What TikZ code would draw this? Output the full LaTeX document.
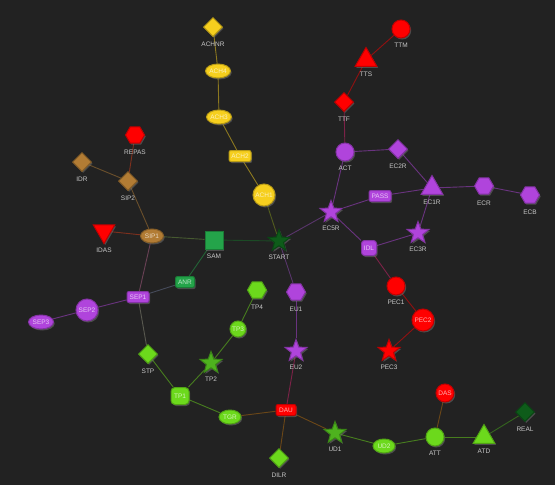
\documentclass[tikz,border=0pt]{standalone}
\usepackage{fontspec}
\setsansfont{Liberation Sans}
\usetikzlibrary{shapes.geometric,shadows,backgrounds}
\definecolor{bgdark}{RGB}{34,34,34}
\definecolor{lblgray}{RGB}{200,200,200}
\definecolor{cYellow}{RGB}{246,207,30}
\definecolor{cRed}{RGB}{255,0,0}
\definecolor{cPurple}{RGB}{176,68,220}
\definecolor{cBrown}{RGB}{178,124,52}
\definecolor{cGreen}{RGB}{36,164,74}
\definecolor{cLime}{RGB}{108,217,28}
\definecolor{cStar}{RGB}{78,178,30}
\definecolor{cDeep}{RGB}{14,92,26}
\pgfdeclarelayer{canvas}
\pgfsetlayers{canvas,background,main}

\begin{document}
\begin{tikzpicture}[x=1pt, y=-1pt,
    nd/.style={fill=#1, draw=#1!75!black, line width=1pt, inner sep=0pt,
               drop shadow={opacity=0.45, shadow xshift=1.2pt, shadow yshift=-1.5pt},
               text=#1!30!white, font=\sffamily\fontsize{6.5}{7}\selectfont},
    ring/.style={circle, minimum size=18pt},
    bigring/.style={circle, minimum size=22pt},
    oval/.style={ellipse, minimum width=25pt, minimum height=14pt},
    tag/.style={rectangle, rounded corners=2pt, minimum width=22pt, minimum height=11pt},
    gem/.style={diamond, minimum size=19pt},
    hexa/.style={regular polygon, regular polygon sides=6, minimum size=19pt},
    tri/.style={regular polygon, regular polygon sides=3, minimum size=25pt},
    starry/.style={star, star points=5, star point ratio=2.4, minimum size=23pt},
    lbl/.style={font=\sffamily\fontsize{6.5}{7}\selectfont, text=lblgray, inner sep=0.5pt},
    every label/.style={lbl}, label distance=2.5pt,
    lb/.style={label={[yshift=-1.5pt]below:#1}},
    lbhex/.style={label={[yshift=-3pt]below:#1}},
    lbtri/.style={label={[yshift=-2.5pt]below:#1}},
    lbstar/.style={label={[yshift=-5pt]below:#1}},
    edge/.style={draw=#1, line width=0.9pt, draw opacity=0.5}]

  \useasboundingbox (0,0) rectangle (555,485);
  \begin{pgfonlayer}{canvas}
    \fill[bgdark] (0,0) rectangle (555,485);
  \end{pgfonlayer}

  % achievement chain
  \node[nd=cYellow, gem, lb=ACHNR] (achnr) at (213,27) {};
  \node[nd=cYellow, oval] (ach4) at (218,71) {ACH4};
  \node[nd=cYellow, oval] (ach3) at (219,117) {ACH3};
  \node[nd=cYellow, tag] (ach2) at (240,156) {ACH2};
  \node[nd=cYellow, bigring] (ach1) at (264,195) {ACH1};
  \node[nd=cDeep, starry, lbstar=START] (start) at (279,241) {};

  % tt / ec block
  \node[nd=cRed, ring, lb=TTM] (ttm) at (401,29) {};
  \node[nd=cRed, tri, lbtri=TTS] (tts) at (366,60) {};
  \node[nd=cRed, gem, lb=TTF] (ttf) at (344,102) {};
  \node[nd=cPurple, ring, lb=ACT] (act) at (345,152) {};
  \node[nd=cPurple, gem, lb=EC2R] (ec2r) at (398,149) {};
  \node[nd=cPurple, tri, lbtri=EC1R] (ec1r) at (432,188) {};
  \node[nd=cPurple, hexa, lbhex=ECR] (ecr) at (484,186) {};
  \node[nd=cPurple, hexa, lbhex=ECB] (ecb) at (530,195) {};
  \node[nd=cPurple, tag] (pass) at (380,196) {PASS};
  \node[nd=cPurple, starry, lbstar=EC5R] (ec5r) at (331,212) {};
  \node[nd=cPurple, starry, lbstar=EC3R] (ec3r) at (418,233) {};
  \node[nd=cPurple, tag, rounded corners=3pt, minimum width=15pt, minimum height=15pt] (idl) at (369,248) {IDL};
  \node[nd=cRed, ring, lb=PEC1] (pec1) at (396,286) {};
  \node[nd=cRed, bigring] (pec2) at (423,320) {PEC2};
  \node[nd=cRed, starry, lbstar=PEC3] (pec3) at (389,351) {};

  % sip / sep block
  \node[nd=cRed, hexa, lbhex=REPAS] (repas) at (135,135) {};
  \node[nd=cBrown, gem, lb=IDR] (idr) at (82,162) {};
  \node[nd=cBrown, gem, lb=SIP2] (sip2) at (128,181) {};
  \node[nd=cRed, tri, shape border rotate=180, label=below:IDAS] (idas) at (104,231) {};
  \node[nd=cBrown, oval, minimum width=23pt] (sip1) at (152,236) {SIP1};
  \node[nd=cGreen, rectangle, minimum size=18pt, lb=SAM] (sam) at (214,240) {};
  \node[nd=cGreen, tag, minimum width=19pt] (anr) at (185,282) {ANR};
  \node[nd=cPurple, tag] (sep1) at (138,297) {SEP1};
  \node[nd=cPurple, bigring] (sep2) at (87,310) {SEP2};
  \node[nd=cPurple, oval] (sep3) at (41,322) {SEP3};

  % tp / eu block
  \node[nd=cLime, gem, lb=STP] (stp) at (148,354) {};
  \node[nd=cLime, hexa, lbhex=TP4] (tp4) at (257,290) {};
  \node[nd=cPurple, hexa, lbhex=EU1] (eu1) at (296,292) {};
  \node[nd=cLime, circle, minimum size=16pt] (tp3) at (238,329) {TP3};
  \node[nd=cStar, starry, lbstar=TP2] (tp2) at (211,363) {};
  \node[nd=cPurple, starry, lbstar=EU2] (eu2) at (296,351) {};
  \node[nd=cLime, tag, rounded corners=4pt, minimum width=18pt, minimum height=17pt] (tp1) at (180,396) {TP1};
  \node[nd=cLime, oval, minimum width=22pt] (tgr) at (230,417) {TGR};
  \node[nd=cRed, tag, minimum width=20pt] (dau) at (286,410) {DAU};
  \node[nd=cLime, gem, lb=DILR] (dilr) at (279,458) {};

  % ud / att block
  \node[nd=cStar, starry, lbstar=UD1] (ud1) at (335,433) {};
  \node[nd=cLime, oval, minimum width=22pt] (ud2) at (384,446) {UD2};
  \node[nd=cLime, ring, lb=ATT] (att) at (435,437) {};
  \node[nd=cRed, ring] (das) at (445,393) {DAS};
  \node[nd=cLime, tri, lbtri=ATD] (atd) at (484,437) {};
  \node[nd=cDeep, gem, lb=REAL] (real) at (525,412) {};

  \begin{scope}[on background layer]
    \draw[edge=cYellow] (achnr) -- (ach4);
    \draw[edge=cYellow] (ach4) -- (ach3);
    \draw[edge=cYellow] (ach3) -- (ach2);
    \draw[edge=cYellow] (ach2) -- (ach1);
    \draw[edge=cYellow!50!cDeep] (ach1) -- (start);
    \draw[edge=cDeep!70!cGreen] (start) -- (sam);
    \draw[edge=cPurple!80!cDeep] (start) -- (ec5r);
    \draw[edge=cPurple!80!cDeep] (start) -- (eu1);
    \draw[edge=cRed] (ttm) -- (tts);
    \draw[edge=cRed] (tts) -- (ttf);
    \draw[edge=cRed!50!cPurple] (ttf) -- (act);
    \draw[edge=cPurple] (act) -- (ec2r);
    \draw[edge=cPurple] (act) -- (ec5r);
    \draw[edge=cPurple] (ec2r) -- (ec1r);
    \draw[edge=cPurple] (ec5r) -- (pass);
    \draw[edge=cPurple] (pass) -- (ec1r);
    \draw[edge=cPurple] (ec1r) -- (ecr);
    \draw[edge=cPurple] (ecr) -- (ecb);
    \draw[edge=cPurple] (ec1r) -- (ec3r);
    \draw[edge=cPurple] (ec3r) -- (idl);
    \draw[edge=cPurple] (ec5r) -- (idl);
    \draw[edge=cPurple!50!cRed] (idl) -- (pec1);
    \draw[edge=cRed] (pec1) -- (pec2);
    \draw[edge=cRed] (pec2) -- (pec3);
    \draw[edge=cRed!50!cBrown] (repas) -- (sip2);
    \draw[edge=cBrown] (idr) -- (sip2);
    \draw[edge=cBrown] (sip2) -- (sip1);
    \draw[edge=cRed!50!cBrown] (idas) -- (sip1);
    \draw[edge=cBrown!50!cGreen] (sip1) -- (sam);
    \draw[edge=cBrown!50!cPurple] (sip1) -- (sep1);
    \draw[edge=cGreen] (sam) -- (anr);
    \draw[edge=cGreen!50!cPurple] (anr) -- (sep1);
    \draw[edge=cPurple] (sep1) -- (sep2);
    \draw[edge=cPurple] (sep2) -- (sep3);
    \draw[edge=cPurple!50!cLime] (sep1) -- (stp);
    \draw[edge=cLime] (stp) -- (tp1);
    \draw[edge=cLime] (tp1) -- (tp2);
    \draw[edge=cLime] (tp2) -- (tp3);
    \draw[edge=cLime] (tp3) -- (tp4);
    \draw[edge=cLime] (tp1) -- (tgr);
    \draw[edge=cLime!50!cRed] (tgr) -- (dau);
    \draw[edge=cRed!50!cPurple] (dau) -- (eu2);
    \draw[edge=cPurple] (eu2) -- (eu1);
    \draw[edge=cRed!50!cLime] (dau) -- (dilr);
    \draw[edge=cRed!50!cLime] (dau) -- (ud1);
    \draw[edge=cLime] (ud1) -- (ud2);
    \draw[edge=cLime] (ud2) -- (att);
    \draw[edge=cLime!50!cRed] (att) -- (das);
    \draw[edge=cLime] (att) -- (atd);
    \draw[edge=cLime!60!cDeep] (atd) -- (real);
  \end{scope}
\end{tikzpicture}
\end{document}
